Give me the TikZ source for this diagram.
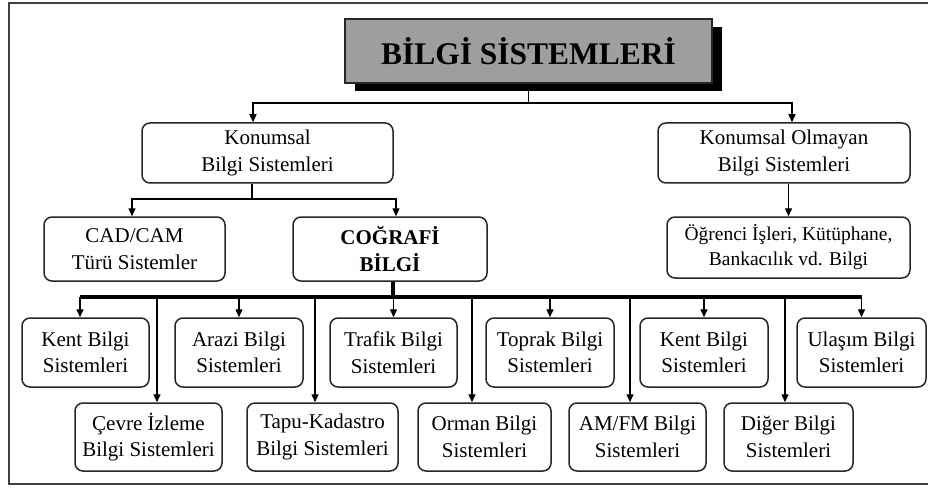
\documentclass[tikz,border=0pt]{standalone}
\usepackage{fontspec}
\setmainfont{Liberation Serif}
\usetikzlibrary{arrows.meta,shadows}
\begin{document}
\begin{tikzpicture}[x=1pt,y=-1pt,
  box/.style={draw=black!85,line width=1.5pt,rounded corners=8pt,fill=white,inner sep=0pt,align=center,
    font=\fontsize{21}{26.5}\selectfont},
  smallbox/.style={box,font=\fontsize{19.5}{25}\selectfont},
  titlebox/.style={draw=black!85,line width=1.5pt,fill=black!38,inner sep=0pt,
    font=\fontsize{31.5}{36}\selectfont\bfseries,
    general shadow={fill=black,shadow xshift=10pt,shadow yshift=-8pt}},
  conn/.style={line width=1.4pt,draw=black},
  arr/.style={conn,-{Triangle[length=8pt,width=7pt]}},
  bus/.style={line width=4pt,draw=black}]
\useasboundingbox (0,0) rectangle (928,489);
\fill[white] (0,0) rectangle (928,489);
% frame
\draw[line width=2pt,draw=black!75] (940,3) -- (9,3) -- (9,484) -- (940,484);
% title
\node[titlebox,minimum width=367pt,minimum height=64pt] (title) at (528.5,51) {BİLGİ SİSTEMLERİ};
% level 1
\node[box,minimum width=251pt,minimum height=60pt] (kons) at (267.5,153) {Konumsal\\Bilgi Sistemleri};
\node[box,minimum width=252pt,minimum height=60pt] (konol) at (784,153) {Konumsal Olmayan\\Bilgi Sistemleri};
% level 2
\node[box,minimum width=181pt,minimum height=64pt] (cad) at (134.5,249) {CAD/CAM\\Türü Sistemler};
\node[box,minimum width=194pt,minimum height=64pt,font=\fontsize{21}{27}\selectfont\bfseries] (cog) at (390,249) {COĞRAFİ\\BİLGİ};
\node[smallbox,minimum width=243pt,minimum height=61pt] (ogr) at (788.5,247.5) {Öğrenci İşleri, Kütüphane,\\Bankacılık vd. Bilgi};
% row 1
\node[box,minimum width=127pt,minimum height=69pt] (kent1) at (85.5,352.5) {Kent Bilgi\\Sistemleri};
\node[box,minimum width=128pt,minimum height=69pt] (arazi) at (239,352.5) {Arazi Bilgi\\Sistemleri};
\node[box,minimum width=127pt,minimum height=69pt] (trafik) at (393.5,352.5) {Trafik Bilgi\\Sistemleri};
\node[box,minimum width=128pt,minimum height=69pt] (toprak) at (550,352.5) {Toprak Bilgi\\Sistemleri};
\node[box,minimum width=128pt,minimum height=69pt] (kent2) at (704,352.5) {Kent Bilgi\\Sistemleri};
\node[box,minimum width=129pt,minimum height=69pt] (ulasim) at (861.5,352.5) {Ulaşım Bilgi\\Sistemleri};
% row 2
\node[box,minimum width=147pt,minimum height=68pt] (cevre) at (148.5,437) {Çevre İzleme\\Bilgi Sistemleri};
\node[box,minimum width=151pt,minimum height=68pt] (tapu) at (322.5,437) {Tapu-Kadastro\\Bilgi Sistemleri};
\node[box,minimum width=133pt,minimum height=68pt] (orman) at (484.5,437) {Orman Bilgi\\Sistemleri};
\node[box,minimum width=137pt,minimum height=68pt] (amfm) at (637.5,437) {AM/FM Bilgi\\Sistemleri};
\node[box,minimum width=129pt,minimum height=68pt] (diger) at (788.5,437) {Diğer Bilgi\\Sistemleri};
% junction coordinates
\coordinate (tj) at (528.5,103);
\coordinate (tl) at (253,103);
\coordinate (tr) at (792,103);
\coordinate (kj) at (252,199);
\coordinate (kl) at (132,199);
\coordinate (kr) at (396,199);
\coordinate (busc) at (393,297);
\coordinate (busl) at (80,297);
\coordinate (busr) at (861.5,297);
\coordinate (b1) at (157,297);
\coordinate (b2) at (315,297);
\coordinate (b3) at (472,297);
\coordinate (b4) at (630,297);
\coordinate (b5) at (785,297);
% title connectors
\draw[conn] (title.south) -- (tj);
\draw[arr] (tj) -- (tl) -- (tl |- kons.north);
\draw[arr] (tj) -- (tr) -- (tr |- konol.north);
% konumsal connectors
\draw[conn] (kj |- kons.south) -- (kj);
\draw[arr] (kj) -- (kl) -- (kl |- cad.north);
\draw[arr] (kj) -- (kr) -- (kr |- cog.north);
\draw[arr] (konol.south -| ogr.north) -- (ogr.north);
% bus
\draw[bus] (cog.south -| busc) -- (busc);
\draw[bus] (busl) -- (busr);
\draw[arr] (busl) -- (kent1.north -| busl);
\draw[arr] (arazi.north |- busc) -- (arazi.north);
\draw[arr] (trafik.north |- busc) -- (trafik.north);
\draw[arr] (toprak.north |- busc) -- (toprak.north);
\draw[arr] (kent2.north |- busc) -- (kent2.north);
\draw[arr] (busr) -- (ulasim.north -| busr);
\draw[arr] (b1) -- (b1 |- cevre.north);
\draw[arr] (b2) -- (b2 |- tapu.north);
\draw[arr] (b3) -- (b3 |- orman.north);
\draw[arr] (b4) -- (b4 |- amfm.north);
\draw[arr] (b5) -- (b5 |- diger.north);
\end{tikzpicture}
\end{document}
